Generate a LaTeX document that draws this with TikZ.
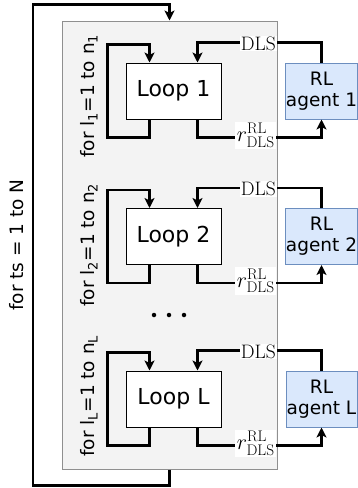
\RequirePackage{fix-cm}
\documentclass[tikz,border=0pt]{standalone}
\usepackage{fontspec}
\newfontfamily\dv{DejaVu Sans}
\usetikzlibrary{arrows.meta}
\definecolor{agentfill}{HTML}{DAE8FC}
\definecolor{agentdraw}{HTML}{6C8EBF}
\definecolor{grayfill}{HTML}{F3F3F3}
\definecolor{graydraw}{HTML}{8F8F8F}
\begin{document}
\begin{tikzpicture}[x=1pt,y=-1pt,
  wire/.style={line width=2.1pt},
  arr/.style={wire,-{Stealth[length=10pt,width=10pt,inset=2.5pt]}},
  loopbox/.style={draw=black,fill=white,line width=1pt,minimum width=95pt,minimum height=56pt,inner sep=0pt,font=\dv\fontsize{22}{26}\selectfont},
  agent/.style={draw=agentdraw,fill=agentfill,line width=1pt,minimum width=71pt,minimum height=56pt,inner sep=0pt,align=center,font=\dv\fontsize{18.5}{21}\selectfont},
  lbl/.style={fill=white,inner sep=1pt,font=\fontsize{19.5}{22}\selectfont},
  rlbl/.style={fill=white,inner sep=1.5pt,font=\fontsize{22}{24}\selectfont},
  vtext/.style={rotate=90,font=\dv\fontsize{18.5}{21}\selectfont},
  dotmark/.style={circle,fill=black,inner sep=0pt,minimum size=4.5pt}]
\useasboundingbox (0,0) rectangle (358,488);
\node[draw=graydraw,fill=grayfill,line width=1pt,minimum width=215pt,minimum height=448pt,inner sep=0pt] (G) at (169.5,245) {};
\node[vtext] (T) at (17,245) {for ts = 1 to N};
\draw[arr] (G.south) -- ++(0,16) -- ++(-136.5,0) -- ++(0,-481) -- ++(136.5,0) -- (G.north);
\foreach \i/\y/\v/\t in {1/91/96/1, 2/236.5/245/2, 3/399/396/L}{
  \node[loopbox] (L\i) at (173.5,\y) {Loop \t};
  \node[agent] (A\i) at (321.5,\y) {RL\\agent \t};
  \node[vtext] (F\i) at (89,\v) {for l\textsubscript{\t}=1 to n\textsubscript{\t}};
  \draw[arr] ([xshift=-24pt]L\i.south) -- ++(0,18) -- ++(-42,0) -- ++(0,-93) -- ++(42,0) -- ([xshift=-24pt]L\i.north);
  \draw[arr] (A\i.north) -- ++(0,-20) -- node[lbl,pos=0.51,yshift=-1pt]{DLS} ([xshift=24pt,yshift=20pt]L\i.north) -- ([xshift=24pt]L\i.north);
  \draw[arr] ([xshift=24pt]L\i.south) -- ++(0,18) -- node[rlbl,pos=0.47,yshift=2pt]{$r^{\mathrm{RL}}_{\mathrm{DLS}}$} ++(124,0) -- (A\i.south);
}
\node[dotmark] (d1) at (154,315) {};
\node[dotmark] (d2) at (169,315) {};
\node[dotmark] (d3) at (184,315) {};
\end{tikzpicture}
\end{document}
